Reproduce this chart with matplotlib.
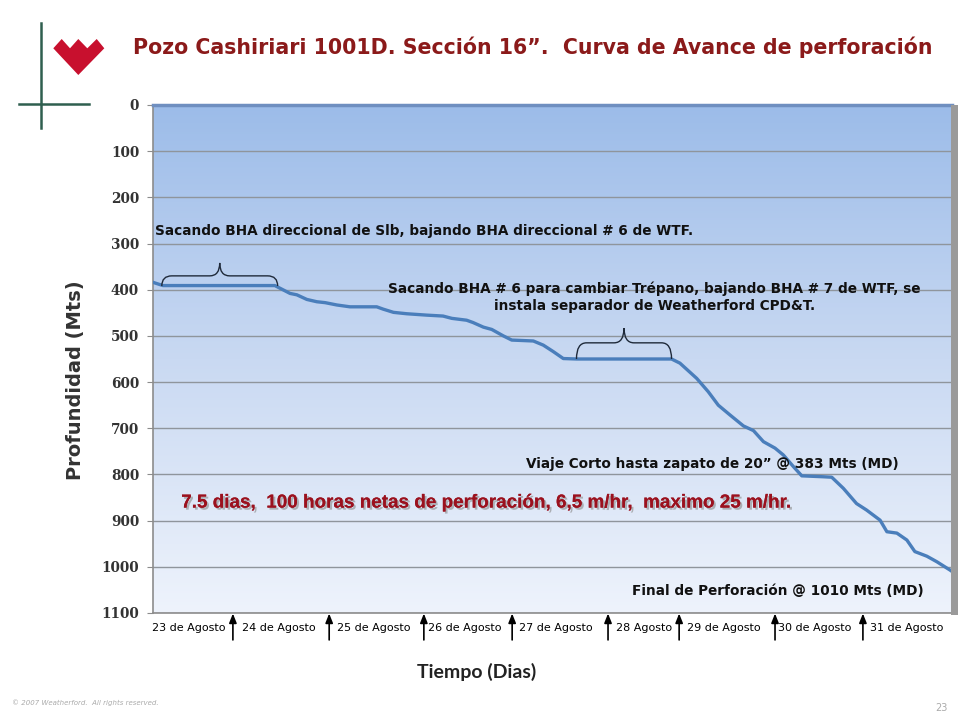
import numpy as np
import matplotlib
matplotlib.use("Agg")
import matplotlib.pyplot as plt
from matplotlib.path import Path
from matplotlib.patches import PathPatch, Polygon, Rectangle
from matplotlib.colors import LinearSegmentedColormap
import matplotlib.patheffects as pe

# ---------------- data ----------------
hours = [0, 2.5, 30.5, 34.3, 36.0, 38.5, 41.0, 43.1, 46.0, 49.3, 56.0, 57.6, 60.2,
         63.5, 68.5, 72.6, 74.8, 78.5, 80.1, 82.7, 84.8, 87.7, 89.8, 95.2, 97.7,
         100.2, 102.7, 106.1, 129.8, 131.9, 136.1, 139.0, 141.5, 144.4, 147.8,
         150.3, 152.8, 155.7, 157.8, 160.3, 162.4, 167.8, 169.9, 172.8, 176.1,
         178.6, 182.0, 183.7, 186.2, 188.7, 190.7, 193.7, 196.2, 199.5, 200.0]
depth = [384, 391, 391, 408, 411, 421, 426, 428, 433, 437, 437, 442, 449,
         452, 455, 457, 462, 466, 471, 481, 486, 500, 509, 511, 520,
         534, 549, 550, 550, 559, 592, 621, 650, 671, 695,
         705, 729, 743, 758, 783, 803, 805, 806, 830, 863,
         877, 899, 924, 927, 942, 967, 977, 989, 1007, 1010]

y_ticks = [0, 100, 200, 300, 400, 500, 600, 700, 800, 900, 1000, 1100]
date_labels = ["23 de Agosto", "24 de Agosto", "25 de Agosto", "26 de Agosto",
               "27 de Agosto", "28 Agosto", "29 de Agosto", "30 de Agosto",
               "31 de Agosto"]
date_label_pos = [8.9, 31.5, 55.2, 78.0, 100.8, 123.0, 142.9, 165.6, 188.7]
day_marks = [20.0, 44.1, 67.8, 89.9, 113.9, 131.7, 155.7, 177.7]

title = "Pozo Cashiriari 1001D. Sección 16”.  Curva de Avance de perforación"

# ---------------- figure ----------------
W, H = 960, 720
fig = plt.figure(figsize=(9.6, 7.2), dpi=100)
fig.patch.set_facecolor("white")

def fx(px):
    return px / W

def fy(py):
    return 1 - py / H

ax_l, ax_r, ax_t, ax_b = 153, 952, 105, 613
ax = fig.add_axes([fx(ax_l), fy(ax_b), (ax_r - ax_l) / W, (ax_b - ax_t) / H])
ax.set_xlim(0, 200)
ax.set_ylim(1100, 0)

# gradient background
cmap = LinearSegmentedColormap.from_list("bg", ["#9cbce9", "#c9d9f2", "#eef3fc"])
grad = np.linspace(0, 1, 256).reshape(-1, 1)
ax.imshow(grad, aspect="auto", cmap=cmap, extent=[0, 1, 0, 1],
          transform=ax.transAxes, zorder=0, origin="upper")

ax.set_yticks(y_ticks)
ax.set_yticklabels([str(t) for t in y_ticks], fontfamily="DejaVu Serif",
                   fontweight="bold", fontsize=9.8, color="#333333")
ax.set_xticks([])
ax.tick_params(axis="y", length=4, color="#8c8c8c", pad=6)
ax.grid(axis="y", color="#8f959c", linewidth=1.0, zorder=1)
ax.set_axisbelow(True)
for s in ["left", "bottom"]:
    ax.spines[s].set_color("#8c8c8c")
    ax.spines[s].set_linewidth(1.2)
ax.spines["right"].set_visible(False)
ax.spines["top"].set_color("#6f8fc0")
ax.spines["top"].set_linewidth(2.5)

# right shadow bar
fig.patches.append(Rectangle((fx(951), fy(ax_b + 2)), 7 / W, (ax_b - ax_t + 2) / H,
                             transform=fig.transFigure, facecolor="#9a9a9a",
                             edgecolor="none", zorder=5))

# curve
ax.plot(hours, depth, color="#4a7ebb", linewidth=2.4, zorder=4,
        solid_joinstyle="round")

# braces
def brace(x0, x1, yb, yh, ytip, r):
    xc = (x0 + x1) / 2
    verts = [(x0, yb), (x0, yh), (x0 + r, yh),
             (xc - r, yh), (xc, yh), (xc, ytip),
             (xc, yh), (xc + r, yh),
             (x1 - r, yh), (x1, yh), (x1, yb)]
    codes = [Path.MOVETO, Path.CURVE3, Path.CURVE3,
             Path.LINETO, Path.CURVE3, Path.CURVE3,
             Path.CURVE3, Path.CURVE3,
             Path.LINETO, Path.CURVE3, Path.CURVE3]
    ax.add_patch(PathPatch(Path(verts, codes), facecolor="none",
                           edgecolor="#1f2a3a", linewidth=1.0, zorder=5))

brace(2.2, 31.2, 392, 370, 342, 2.5)
brace(106.0, 129.8, 550, 515, 483, 2.5)

# annotations
txt_font = ["DejaVu Sans"]
fs = 9.8
ax.text(0.5, 273, "Sacando BHA direccional de Slb, bajando BHA direccional # 6 de WTF.",
        ha="left", va="center", fontsize=fs, fontweight="bold", family=txt_font,
        color="#111111", zorder=6)
ax.text(125.5, 416, "Sacando BHA # 6 para cambiar Trépano, bajando BHA # 7 de WTF, se\n"
        "instala separador de Weatherford CPD&T.", ha="center", va="center",
        fontsize=fs, fontweight="bold", family=txt_font, color="#111111",
        linespacing=1.3, zorder=6)
ax.text(140.0, 777, "Viaje Corto hasta zapato de 20” @ 383 Mts (MD)", ha="center",
        va="center", fontsize=fs, fontweight="bold", family=txt_font,
        color="#111111", zorder=6)
ax.text(83.4, 862, "7.5 dias,  100 horas netas de perforación, 6,5 m/hr,  maximo 25 m/hr.",
        ha="center", va="center", fontsize=13.6, fontweight="bold",
        family=["Liberation Sans", "DejaVu Sans"], color="#9b111e", zorder=6,
        path_effects=[pe.withSimplePatchShadow(offset=(1.5, -1.5), shadow_rgbFace="#8a8a8a",
                                               alpha=0.6), pe.Normal()])
ax.text(156.4, 1052, "Final de Perforación @ 1010 Mts (MD)", ha="center", va="center",
        fontsize=fs, fontweight="bold", family=txt_font, color="#111111", zorder=6)

# date labels and arrows
for lab, pos in zip(date_labels, date_label_pos):
    ax.text(pos, -0.03, lab, transform=ax.get_xaxis_transform(), ha="center",
            va="center", fontsize=8, family=["DejaVu Sans"], color="black", clip_on=False)
for m in day_marks:
    ax.annotate("", xy=(m, -0.001), xycoords=ax.get_xaxis_transform(),
                xytext=(m, -0.053), textcoords=ax.get_xaxis_transform(),
                arrowprops=dict(arrowstyle="-|>,head_length=0.55,head_width=0.22",
                                color="black", lw=1.2, shrinkA=0, shrinkB=0),
                annotation_clip=False)

# axis titles
fig.text(fx(75), fy(380), "Profundidad (Mts)", rotation=90, ha="center", va="center",
         fontsize=14, fontweight="bold", family=["DejaVu Sans"], color="#333333")
fig.text(fx(477), fy(672), "Tiempo (Dias)", ha="center", va="center",
         fontsize=14, fontweight="bold", family=["Lato", "DejaVu Sans"], color="#222222")

# title
fig.text(fx(133), fy(47), title, ha="left", va="center", fontsize=14.8,
         fontweight="bold", family=["DejaVu Sans"], color="#8b1a1a")

# decorative lines and logo
fig.add_artist(plt.Line2D([fx(40.7), fx(40.7)], [fy(23), fy(128)],
                          transform=fig.transFigure, color="#2f5f4f", lw=1.8))
fig.add_artist(plt.Line2D([fx(19), fx(89)], [fy(104), fy(104)],
                          transform=fig.transFigure, color="#2f5f4f", lw=1.8))
logo_px = [(53.3, 48.3), (61.7, 39.0), (70, 48.3), (78.3, 39.0), (87.3, 48.3),
           (96.7, 39.0), (104.3, 48.3), (78.3, 75.0)]
fig.patches.append(Polygon([(fx(a), fy(b)) for a, b in logo_px], closed=True,
                           transform=fig.transFigure, facecolor="#c8102e",
                           edgecolor="none"))

# footer
fig.text(fx(12), fy(703), "© 2007 Weatherford.  All rights reserved.", fontsize=5,
         color="#aaaaaa", style="italic", ha="left", va="center")
fig.text(fx(948), fy(708), "23", fontsize=7, color="#aaaaaa", ha="right", va="center")

fig.savefig("out.png", dpi=100)
